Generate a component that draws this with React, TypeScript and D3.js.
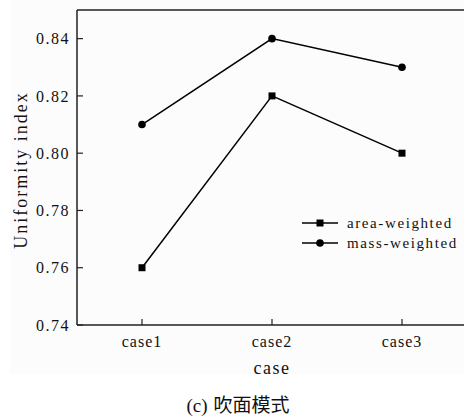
import React from 'react';
import * as d3 from 'd3';

const cases = ['case1', 'case2', 'case3'];
const areaWeighted = [0.76, 0.82, 0.80];
const massWeighted = [0.81, 0.84, 0.83];
const yTicks = [0.74, 0.76, 0.78, 0.80, 0.82, 0.84];
const seriesNames = ['area-weighted', 'mass-weighted'];

const W = 464;
const H = 417;
const serif = '"Liberation Serif", "DejaVu Serif", serif';

export default function App() {
    const left = 77, right = 467, top = 10, bottom = 325;

    const x = d3.scalePoint<string>().domain(cases).range([left, right]).padding(0.5);
    const y = d3.scaleLinear().domain([0.74, 0.85]).range([bottom, top]);

    const line = d3.line<number>()
        .x((_, i) => x(cases[i]) as number)
        .y(d => y(d));

    return (
        <div style={{ position: 'absolute', left: 0, top: 0 }}>
            <svg width={W} height={H} style={{ display: 'block', background: '#fff' }}>
                <rect x={10} y={0} width={W - 10} height={374} fill="#fcfcfc" />

                {/* frame: left, bottom, top */}
                <line x1={left} x2={left} y1={top} y2={bottom} stroke="#222" strokeWidth={1.5} />
                <line x1={left} x2={W} y1={bottom} y2={bottom} stroke="#222" strokeWidth={1.5} />
                <line x1={left} x2={W} y1={top} y2={top} stroke="#222" strokeWidth={1.5} />

                {yTicks.map(t => (
                    <g key={t}>
                        <line x1={left} x2={left + 6} y1={y(t)} y2={y(t)} stroke="#222" strokeWidth={1.2} />
                        <text x={left - 7} y={y(t)} dy="0.35em" textAnchor="end" letterSpacing={1.5}
                            fontFamily={serif} fontSize={16} fill="#111">{t.toFixed(2)}</text>
                    </g>
                ))}

                {cases.map(c => (
                    <g key={c}>
                        <line x1={x(c)} x2={x(c)} y1={bottom} y2={bottom - 6} stroke="#222" strokeWidth={1.2} />
                        <text x={x(c)} y={bottom + 22} textAnchor="middle" letterSpacing={1}
                            fontFamily={serif} fontSize={16} fill="#111">{c}</text>
                    </g>
                ))}

                <text x={272} y={374} textAnchor="middle" fontFamily={serif} fontSize={18}
                    letterSpacing={1.5} fill="#111">case</text>
                <text transform="translate(27,170) rotate(-90)" textAnchor="middle" letterSpacing={2}
                    fontFamily={serif} fontSize={18} fill="#111">Uniformity index</text>

                <path d={line(areaWeighted) || ''} fill="none" stroke="#000" strokeWidth={1.5} />
                <path d={line(massWeighted) || ''} fill="none" stroke="#000" strokeWidth={1.5} />
                {areaWeighted.map((v, i) => (
                    <rect key={'a' + i} x={(x(cases[i]) as number) - 3.5} y={y(v) - 3.5} width={7} height={7} fill="#000" />
                ))}
                {massWeighted.map((v, i) => (
                    <circle key={'m' + i} cx={x(cases[i]) as number} cy={y(v)} r={3.8} fill="#000" />
                ))}

                {/* legend */}
                {seriesNames.map((s, i) => {
                    const ly = 223 + i * 20;
                    return (
                        <g key={s}>
                            <line x1={302} x2={338} y1={ly} y2={ly} stroke="#000" strokeWidth={1.5} />
                            {i === 0
                                ? <rect x={316.5} y={ly - 3.5} width={7} height={7} fill="#000" />
                                : <circle cx={320} cy={ly} r={3.8} fill="#000" />}
                            <text x={347} y={ly} dy="0.35em" fontFamily={serif} fontSize={15}
                                letterSpacing={1.6} fill="#111">{s}</text>
                        </g>
                    );
                })}

                <text x={238} y={412} textAnchor="middle" fontSize={19} fill="#111"
                    fontFamily={serif}>
                    (c)<tspan dx={6} fontFamily='"Noto Sans CJK SC", sans-serif' fontSize={19}>吹面模式</tspan>
                </text>
            </svg>
        </div>
    );
}
